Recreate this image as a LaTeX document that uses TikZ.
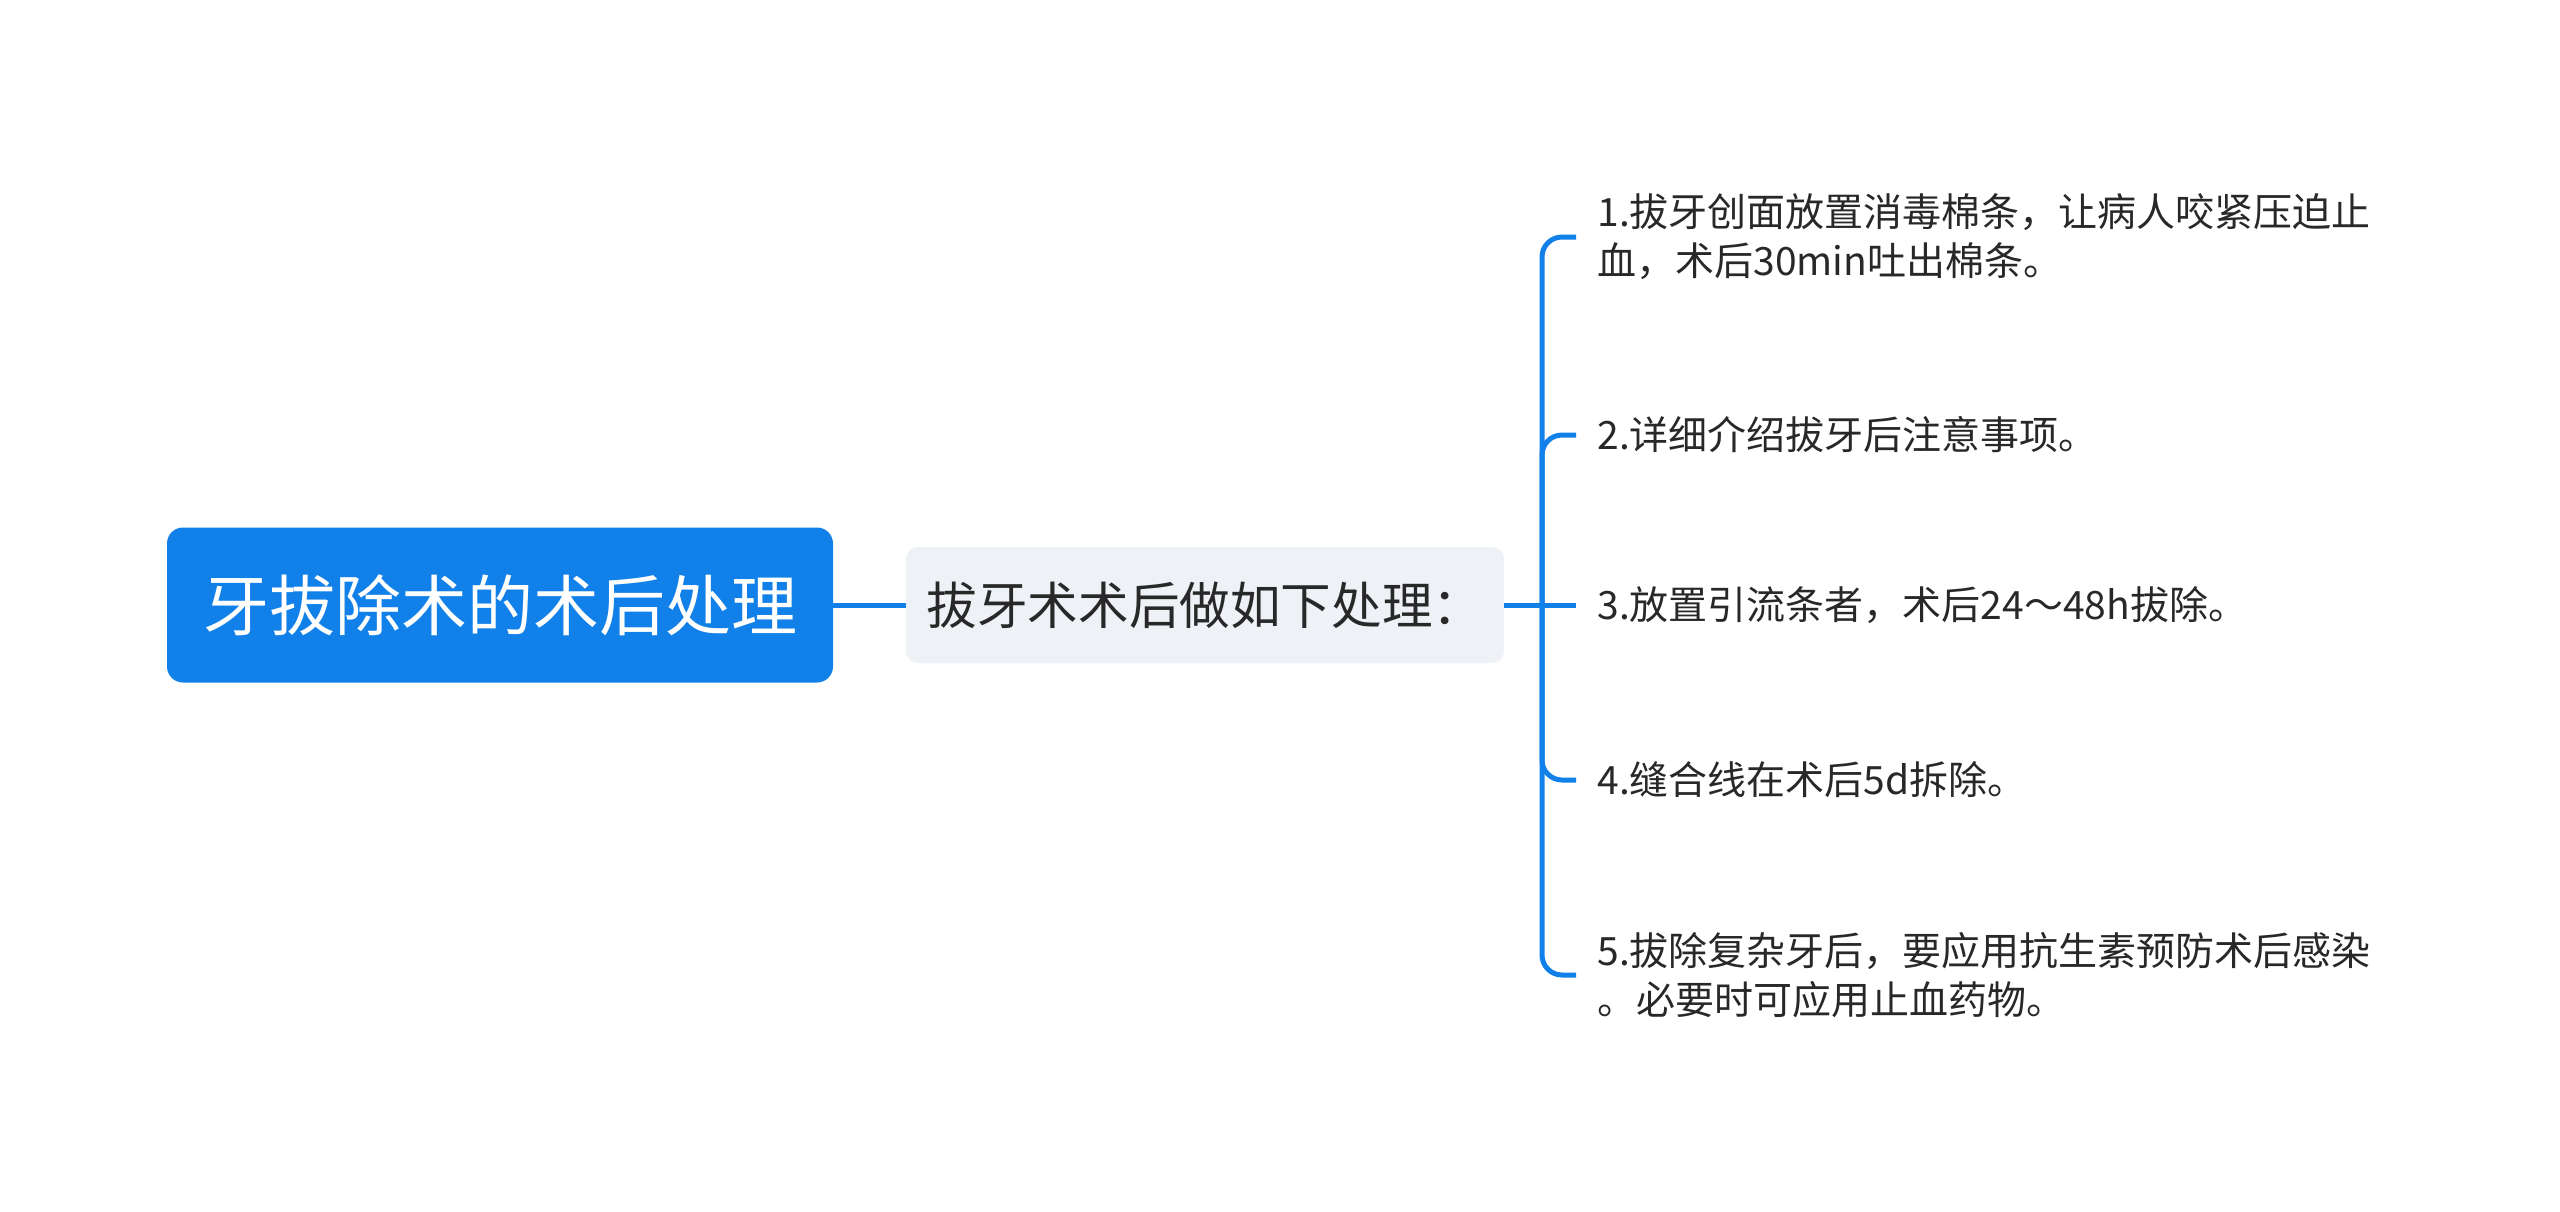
\documentclass[tikz,border=0pt]{standalone}
\usepackage{fontspec}
\setmainfont{Noto Sans CJK SC}
\usetikzlibrary{positioning}
\definecolor{mapblue}{RGB}{17,128,232}
\definecolor{subgray}{RGB}{238,241,245}
\definecolor{inkgray}{RGB}{40,40,40}

\begin{document}
\begin{tikzpicture}[x=0.5pt,y=-0.5pt,
  root/.style={fill=mapblue, rounded corners=8pt, text=white, font=\fontsize{33pt}{40pt}\selectfont, minimum width=333pt, minimum height=77.5pt},
  sub/.style={fill=subgray, rounded corners=6pt, text=inkgray, font=\fontsize{25.3pt}{30pt}\selectfont, minimum width=299pt, minimum height=58pt},
  leaf/.style={anchor=west, align=left, inner xsep=10.5pt, inner ysep=0pt, text=inkgray, font=\fontsize{19.5pt}{24.5pt}\selectfont},
  branch/.style={draw=mapblue, line width=2.5pt, rounded corners=10pt}]

\useasboundingbox (0,0) rectangle (2560,1211);

\node[root] (root) at (500,605) {牙拔除术的术后处理};
\node[sub] (care) at (1205,605) {拔牙术术后做如下处理：};
\coordinate (hub) at (1542,605);

\node[leaf] (s1) at (1576,237) {1.拔牙创面放置消毒棉条，让病人咬紧压迫止\\血，术后30min吐出棉条。};
\node[leaf] (s2) at (1576,435) {2.详细介绍拔牙后注意事项。};
\node[leaf] (s3) at (1576,605) {3.放置引流条者，术后24～48h拔除。};
\node[leaf] (s4) at (1576,780) {4.缝合线在术后5d拆除。};
\node[leaf] (s5) at (1576,975) {5.拔除复杂牙后，要应用抗生素预防术后感染\\。必要时可应用止血药物。};

\draw[branch] (root) -- (care);
\draw[branch] (care) -- (hub);
\foreach \n in {1,2,4,5}
  \draw[branch] (hub) |- (s\n.west);
\draw[branch] (hub) -- (s3.west);

\end{tikzpicture}
\end{document}
